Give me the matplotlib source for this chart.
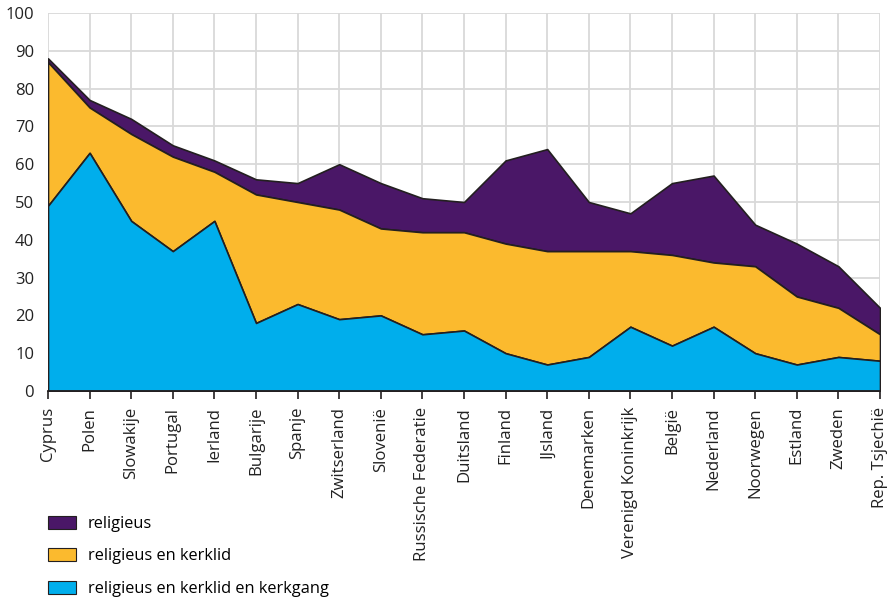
import matplotlib
matplotlib.use("Agg")
import matplotlib.pyplot as plt
from matplotlib.patches import Patch

plt.rcParams['font.family'] = ['Open Sans', 'DejaVu Sans']

landen = ["Cyprus", "Polen", "Slowakije", "Portugal", "Ierland", "Bulgarije",
          "Spanje", "Zwitserland", "Slovenië", "Russische Federatie", "Duitsland",
          "Finland", "IJsland", "Denemarken", "Verenigd Koninkrijk", "België",
          "Nederland", "Noorwegen", "Estland", "Zweden", "Rep. Tsjechië"]

# percentages (nested: total religious >= religious+member >= religious+member+churchgoing)
religieus = [88, 77, 72, 65, 61, 56, 55, 60, 55, 51, 50,
             61, 64, 50, 47, 55, 57, 44, 39, 33, 22]
religieus_kerklid = [87, 75, 68, 62, 58, 52, 50, 48, 43, 42, 42,
                     39, 37, 37, 37, 36, 34, 33, 25, 22, 15]
religieus_kerklid_kerkgang = [49, 63, 45, 37, 45, 18, 23, 19, 20, 15, 16,
                              10, 7, 9, 17, 12, 17, 10, 7, 9, 8]

paars = '#4a1767'
geel = '#fbba2e'
blauw = '#00aeec'
rand = '#231f20'

fig = plt.figure(figsize=(8.91, 6.01), dpi=100)
ax = fig.add_axes([48/891, 1-391/601, (880-48)/891, (391-13)/601])

x = list(range(len(landen)))
ax.fill_between(x, religieus_kerklid, religieus, facecolor=paars, edgecolor=rand, linewidth=1.2, zorder=2)
ax.fill_between(x, religieus_kerklid_kerkgang, religieus_kerklid, facecolor=geel, edgecolor=rand, linewidth=1.2, zorder=3)
ax.fill_between(x, 0, religieus_kerklid_kerkgang, facecolor=blauw, edgecolor=rand, linewidth=1.2, zorder=4)

ax.set_xlim(0, len(landen) - 1)
ax.set_ylim(0, 100)
ax.set_yticks(range(0, 101, 10))
ax.set_xticks(x)
ax.set_xticklabels(landen, rotation=90, fontsize=12.1, color='#222222')
ax.tick_params(axis='y', length=0, pad=10, labelsize=12, labelcolor='#222222')
ax.tick_params(axis='x', length=5.5, width=1.2, color=rand, pad=6)
ax.grid(True, color='#d9d9d9', linewidth=1.3, zorder=0)
ax.set_axisbelow(True)
for s in ['top', 'right', 'left']:
    ax.spines[s].set_visible(False)
ax.spines['bottom'].set_color(rand)
ax.spines['bottom'].set_linewidth(1.3)
ax.spines['bottom'].set_zorder(5)

handles = [Patch(facecolor=paars, edgecolor=rand, linewidth=0.8, label='religieus'),
           Patch(facecolor=geel, edgecolor=rand, linewidth=0.8, label='religieus en kerklid'),
           Patch(facecolor=blauw, edgecolor=rand, linewidth=0.8, label='religieus en kerklid en kerkgang')]
fig.legend(handles=handles, loc='upper left', bbox_to_anchor=(48/891, 1-516/601),
           frameon=False, fontsize=11.8, handlelength=1.7, handleheight=0.85,
           handletextpad=0.72, labelspacing=0.98, borderpad=0, borderaxespad=0)

fig.savefig('out.png', dpi=100)
